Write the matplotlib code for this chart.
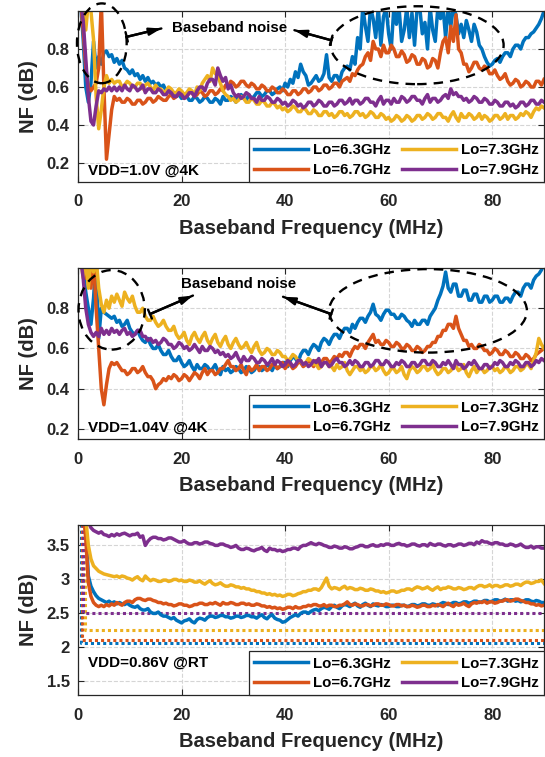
import matplotlib
matplotlib.use('Agg')
import matplotlib.pyplot as plt
from matplotlib.patches import Ellipse
import numpy as np

plt.rcParams['font.family'] = ['Liberation Sans', 'DejaVu Sans']
plt.rcParams['font.weight'] = 'bold'
plt.rcParams['axes.labelweight'] = 'bold'

# baseband frequency (MHz), 0.5 MHz steps
freq = np.arange(0.5, 90.01, 0.5)

labels = ['Lo=6.3GHz', 'Lo=6.7GHz', 'Lo=7.3GHz', 'Lo=7.9GHz']
colors = ['#0072BD', '#D95319', '#EDB120', '#7E2F8E']

# ---- VDD=1.0V @4K ----
top_63 = [1.05, 0.85, 0.60, 0.52, 0.62, 0.84, 0.70, 0.76, 0.72, 0.78, 0.79, 0.76, 0.77, 0.73, 0.75,
          0.72, 0.74, 0.70, 0.69, 0.67, 0.69, 0.66, 0.67, 0.64, 0.66,
          0.63, 0.65, 0.62, 0.63, 0.61, 0.62, 0.60, 0.61, 0.58, 0.59,
          0.56, 0.57, 0.55, 0.56, 0.54, 0.55, 0.55, 0.53, 0.53, 0.55,
          0.54, 0.52, 0.53, 0.55, 0.54, 0.52, 0.52, 0.54, 0.53, 0.51,
          0.55, 0.53, 0.53, 0.55, 0.54, 0.52, 0.55, 0.56, 0.54, 0.53,
          0.56, 0.54, 0.55, 0.57, 0.57, 0.55, 0.56, 0.58, 0.58, 0.56,
          0.57, 0.59, 0.60, 0.58, 0.62, 0.60, 0.64, 0.62, 0.68, 0.65,
          0.72, 0.68, 0.66, 0.61, 0.62, 0.64, 0.66, 0.63, 0.64, 0.67,
          0.77, 0.65, 0.63, 0.66, 0.66, 0.63, 0.68, 0.70, 0.71, 0.69,
          0.76, 0.72, 0.86, 0.80, 1.02, 0.92, 0.84, 1.02, 0.96, 0.86,
          1.02, 0.82, 0.97, 1.02, 0.88, 0.80, 1.02, 0.93, 1.02, 0.84,
          0.90, 1.02, 0.86, 0.99, 0.82, 1.02, 1.02, 0.88, 0.94, 0.80,
          1.02, 0.90, 0.84, 1.02, 0.96, 1.02, 0.86, 1.02, 0.92, 1.02,
          0.98, 0.88, 0.93, 0.86, 0.95, 0.90, 0.84, 0.93, 0.89, 0.82,
          0.80, 0.76, 0.73, 0.71, 0.72, 0.74, 0.75, 0.73, 0.76, 0.78,
          0.78, 0.76, 0.80, 0.82, 0.82, 0.80, 0.84, 0.86, 0.86, 0.88,
          0.89, 0.91, 0.93, 0.96, 1.00]
top_67 = [1.05, 0.90, 0.70, 0.60, 0.58, 0.60, 0.62, 0.70, 1.05, 0.60, 0.22, 0.35, 0.48, 0.55, 0.53,
          0.54, 0.52, 0.52, 0.54, 0.53, 0.51, 0.51, 0.53, 0.53, 0.51,
          0.52, 0.54, 0.54, 0.52, 0.53, 0.55, 0.54, 0.53, 0.53, 0.55,
          0.56, 0.54, 0.55, 0.57, 0.56, 0.54, 0.55, 0.57, 0.57, 0.55,
          0.56, 0.58, 0.57, 0.55, 0.56, 0.58, 0.58, 0.56, 0.57, 0.59,
          0.58, 0.61, 0.60, 0.63, 0.62, 0.60, 0.61, 0.63, 0.63, 0.61,
          0.60, 0.62, 0.61, 0.59, 0.59, 0.61, 0.60, 0.58, 0.58, 0.60,
          0.59, 0.57, 0.57, 0.59, 0.58, 0.56, 0.56, 0.58, 0.58, 0.56,
          0.57, 0.59, 0.59, 0.57, 0.58, 0.60, 0.60, 0.58, 0.59, 0.61,
          0.61, 0.59, 0.60, 0.62, 0.62, 0.60, 0.63, 0.64, 0.65, 0.63,
          0.67, 0.66, 0.69, 0.71, 0.72, 0.76, 0.78, 0.74, 0.84, 0.80,
          0.80, 0.76, 0.82, 0.78, 0.78, 0.82, 0.80, 0.76, 0.76, 0.79,
          0.77, 0.73, 0.74, 0.77, 0.76, 0.72, 0.72, 0.75, 0.74, 0.70,
          0.71, 0.75, 0.74, 0.70, 0.78, 0.84, 0.86, 0.78, 0.92, 0.84,
          0.98, 0.80, 0.78, 0.72, 0.72, 0.68, 0.70, 0.73, 0.73, 0.70,
          0.69, 0.71, 0.70, 0.67, 0.67, 0.69, 0.66, 0.64, 0.65, 0.67,
          0.63, 0.61, 0.62, 0.64, 0.63, 0.60, 0.61, 0.63, 0.62, 0.60,
          0.60, 0.63, 0.63, 0.61, 0.64]
top_73 = [1.05, 1.05, 0.90, 1.05, 1.00, 0.85, 0.55, 0.38, 0.48, 0.60, 0.66, 0.62, 0.64, 0.62, 0.63,
          0.63, 0.60, 0.61, 0.63, 0.62, 0.60, 0.60, 0.62, 0.62, 0.59,
          0.61, 0.62, 0.60, 0.58, 0.61, 0.59, 0.59, 0.57, 0.58, 0.60,
          0.59, 0.57, 0.57, 0.59, 0.58, 0.56, 0.57, 0.59, 0.58, 0.56,
          0.60, 0.58, 0.62, 0.64, 0.66, 0.63, 0.70, 0.67, 0.66, 0.62,
          0.58, 0.56, 0.55, 0.53, 0.54, 0.52, 0.53, 0.55, 0.54, 0.52,
          0.52, 0.54, 0.53, 0.51, 0.51, 0.53, 0.52, 0.50, 0.50, 0.52,
          0.51, 0.49, 0.50, 0.48, 0.49, 0.47, 0.48, 0.50, 0.49, 0.47,
          0.47, 0.49, 0.48, 0.46, 0.46, 0.48, 0.47, 0.45, 0.45, 0.47,
          0.47, 0.45, 0.46, 0.44, 0.45, 0.47, 0.47, 0.45, 0.46, 0.44,
          0.45, 0.47, 0.47, 0.45, 0.46, 0.44, 0.45, 0.47, 0.46, 0.44,
          0.44, 0.46, 0.45, 0.43, 0.44, 0.42, 0.43, 0.45, 0.44, 0.42,
          0.43, 0.45, 0.44, 0.42, 0.43, 0.45, 0.45, 0.43, 0.44, 0.46,
          0.45, 0.43, 0.44, 0.46, 0.46, 0.44, 0.44, 0.42, 0.45, 0.47,
          0.44, 0.42, 0.46, 0.44, 0.44, 0.46, 0.45, 0.43, 0.44, 0.46,
          0.43, 0.45, 0.44, 0.42, 0.43, 0.45, 0.45, 0.43, 0.44, 0.46,
          0.43, 0.45, 0.45, 0.43, 0.44, 0.46, 0.45, 0.47, 0.46, 0.44,
          0.47, 0.49, 0.48, 0.50, 0.49]
top_79 = [1.05, 0.95, 0.75, 0.55, 0.42, 0.40, 0.50, 0.58, 0.57, 0.59, 0.58, 0.60, 0.58, 0.60, 0.58,
          0.60, 0.58, 0.61, 0.59, 0.58, 0.61, 0.60, 0.58, 0.59, 0.61,
          0.57, 0.59, 0.59, 0.57, 0.57, 0.59, 0.58, 0.56, 0.56, 0.58,
          0.57, 0.55, 0.55, 0.57, 0.56, 0.54, 0.55, 0.57, 0.57, 0.55,
          0.58, 0.60, 0.60, 0.58, 0.62, 0.64, 0.64, 0.61, 0.70, 0.66,
          0.63, 0.65, 0.59, 0.61, 0.57, 0.55, 0.56, 0.54, 0.55, 0.57,
          0.56, 0.54, 0.54, 0.52, 0.55, 0.53, 0.53, 0.55, 0.54, 0.52,
          0.52, 0.54, 0.53, 0.51, 0.52, 0.50, 0.51, 0.53, 0.52, 0.50,
          0.51, 0.49, 0.50, 0.52, 0.52, 0.50, 0.51, 0.53, 0.52, 0.50,
          0.50, 0.52, 0.52, 0.50, 0.51, 0.53, 0.53, 0.51, 0.52, 0.54,
          0.51, 0.53, 0.53, 0.51, 0.52, 0.54, 0.54, 0.52, 0.52, 0.50,
          0.53, 0.55, 0.51, 0.53, 0.53, 0.51, 0.54, 0.52, 0.52, 0.55,
          0.54, 0.52, 0.53, 0.55, 0.55, 0.53, 0.53, 0.51, 0.54, 0.56,
          0.52, 0.54, 0.54, 0.52, 0.53, 0.55, 0.56, 0.54, 0.59, 0.56,
          0.57, 0.55, 0.55, 0.53, 0.54, 0.52, 0.53, 0.55, 0.54, 0.52,
          0.52, 0.54, 0.53, 0.51, 0.51, 0.53, 0.52, 0.50, 0.50, 0.52,
          0.52, 0.50, 0.51, 0.49, 0.50, 0.52, 0.52, 0.50, 0.51, 0.53,
          0.53, 0.51, 0.51, 0.53, 0.52]

# ---- VDD=1.04V @4K ----
mid_63 = [1.05, 1.00, 0.88, 0.80, 0.72, 0.85, 1.05, 0.65, 0.80, 0.78, 0.77, 0.76, 0.75, 0.76, 0.73,
          0.74, 0.71, 0.72, 0.74, 0.70, 0.68, 0.67, 0.69, 0.66, 0.64,
          0.63, 0.65, 0.62, 0.60, 0.60, 0.62, 0.59, 0.57, 0.57, 0.59,
          0.56, 0.54, 0.54, 0.56, 0.53, 0.51, 0.52, 0.54, 0.51, 0.49,
          0.52, 0.50, 0.50, 0.52, 0.51, 0.49, 0.50, 0.52, 0.49, 0.47,
          0.51, 0.49, 0.50, 0.48, 0.49, 0.51, 0.50, 0.48, 0.49, 0.51,
          0.50, 0.48, 0.49, 0.51, 0.51, 0.49, 0.50, 0.52, 0.51, 0.49,
          0.52, 0.50, 0.51, 0.53, 0.53, 0.51, 0.54, 0.56, 0.55, 0.53,
          0.57, 0.59, 0.59, 0.57, 0.60, 0.62, 0.61, 0.59, 0.63, 0.65,
          0.64, 0.62, 0.65, 0.67, 0.67, 0.65, 0.68, 0.70, 0.70, 0.68,
          0.72, 0.70, 0.73, 0.75, 0.75, 0.73, 0.76, 0.78, 0.82, 0.77,
          0.76, 0.74, 0.77, 0.79, 0.79, 0.77, 0.77, 0.75, 0.75, 0.77,
          0.76, 0.74, 0.73, 0.71, 0.74, 0.72, 0.72, 0.74, 0.74, 0.72,
          0.76, 0.78, 0.80, 0.84, 0.87, 0.91, 0.98, 0.90, 0.88, 0.92,
          0.92, 0.86, 0.86, 0.89, 0.89, 0.84, 0.84, 0.87, 0.87, 0.83,
          0.83, 0.86, 0.86, 0.83, 0.84, 0.86, 0.86, 0.83, 0.83, 0.85,
          0.85, 0.83, 0.86, 0.88, 0.88, 0.86, 0.90, 0.92, 0.92, 0.90,
          0.94, 0.96, 0.97, 0.99, 1.02]
mid_67 = [1.05, 1.05, 0.95, 1.05, 0.90, 1.05, 0.80, 0.60, 0.40, 0.32, 0.42, 0.50, 0.53, 0.52, 0.53,
          0.51, 0.49, 0.49, 0.47, 0.48, 0.50, 0.50, 0.48, 0.49, 0.51,
          0.48, 0.46, 0.46, 0.44, 0.40, 0.42, 0.43, 0.45, 0.44, 0.46,
          0.45, 0.47, 0.46, 0.44, 0.45, 0.47, 0.46, 0.44, 0.46, 0.48,
          0.47, 0.45, 0.48, 0.50, 0.47, 0.49, 0.49, 0.47, 0.48, 0.50,
          0.50, 0.52, 0.54, 0.51, 0.51, 0.49, 0.50, 0.52, 0.49, 0.47,
          0.51, 0.49, 0.50, 0.52, 0.49, 0.51, 0.51, 0.49, 0.50, 0.52,
          0.52, 0.50, 0.51, 0.53, 0.50, 0.52, 0.52, 0.50, 0.51, 0.53,
          0.53, 0.51, 0.52, 0.54, 0.53, 0.51, 0.54, 0.52, 0.53, 0.55,
          0.55, 0.53, 0.54, 0.56, 0.55, 0.57, 0.56, 0.58, 0.58, 0.56,
          0.59, 0.61, 0.60, 0.62, 0.62, 0.60, 0.63, 0.65, 0.67, 0.63,
          0.64, 0.62, 0.62, 0.64, 0.63, 0.61, 0.61, 0.63, 0.62, 0.60,
          0.60, 0.62, 0.61, 0.59, 0.59, 0.61, 0.60, 0.58, 0.59, 0.61,
          0.61, 0.63, 0.63, 0.66, 0.66, 0.69, 0.69, 0.72, 0.72, 0.70,
          0.76, 0.70, 0.67, 0.64, 0.64, 0.61, 0.62, 0.60, 0.60, 0.62,
          0.61, 0.59, 0.59, 0.57, 0.58, 0.60, 0.59, 0.57, 0.57, 0.59,
          0.58, 0.56, 0.56, 0.58, 0.57, 0.55, 0.55, 0.57, 0.56, 0.54,
          0.55, 0.57, 0.58, 0.59, 0.60]
mid_73 = [1.05, 0.95, 1.05, 0.90, 1.05, 0.98, 1.05, 0.90, 0.82, 0.78, 0.84, 0.80, 0.86, 0.83, 0.87,
          0.84, 0.81, 0.88, 0.85, 0.83, 0.86, 0.81, 0.78, 0.78, 0.80,
          0.76, 0.74, 0.74, 0.76, 0.73, 0.71, 0.72, 0.74, 0.71, 0.69,
          0.69, 0.71, 0.67, 0.65, 0.66, 0.68, 0.64, 0.62, 0.66, 0.68,
          0.65, 0.63, 0.66, 0.68, 0.64, 0.62, 0.65, 0.67, 0.63, 0.61,
          0.64, 0.66, 0.62, 0.60, 0.63, 0.65, 0.62, 0.60, 0.61, 0.63,
          0.60, 0.58, 0.61, 0.63, 0.59, 0.57, 0.58, 0.60, 0.59, 0.57,
          0.57, 0.59, 0.58, 0.56, 0.56, 0.54, 0.55, 0.57, 0.56, 0.54,
          0.54, 0.52, 0.53, 0.55, 0.54, 0.52, 0.52, 0.50, 0.51, 0.53,
          0.53, 0.51, 0.51, 0.49, 0.52, 0.50, 0.51, 0.53, 0.49, 0.47,
          0.49, 0.51, 0.51, 0.49, 0.50, 0.48, 0.49, 0.51, 0.51, 0.49,
          0.50, 0.52, 0.49, 0.47, 0.48, 0.50, 0.50, 0.48, 0.49, 0.51,
          0.47, 0.45, 0.49, 0.51, 0.50, 0.48, 0.49, 0.51, 0.51, 0.49,
          0.50, 0.52, 0.49, 0.47, 0.48, 0.50, 0.50, 0.48, 0.49, 0.51,
          0.51, 0.49, 0.50, 0.52, 0.48, 0.46, 0.49, 0.51, 0.48, 0.50,
          0.50, 0.48, 0.49, 0.51, 0.51, 0.49, 0.50, 0.48, 0.49, 0.51,
          0.50, 0.48, 0.49, 0.51, 0.51, 0.49, 0.50, 0.52, 0.52, 0.50,
          0.54, 0.58, 0.65, 0.62, 0.60]
mid_79 = [1.05, 0.95, 0.80, 0.72, 0.68, 0.66, 0.68, 0.66, 0.70, 0.67, 0.69, 0.67, 0.70, 0.68, 0.69,
          0.67, 0.69, 0.70, 0.67, 0.68, 0.66, 0.67, 0.69, 0.69, 0.66,
          0.66, 0.64, 0.65, 0.63, 0.64, 0.62, 0.63, 0.65, 0.64, 0.62,
          0.62, 0.60, 0.61, 0.63, 0.62, 0.60, 0.61, 0.59, 0.60, 0.62,
          0.60, 0.58, 0.61, 0.59, 0.59, 0.61, 0.60, 0.58, 0.59, 0.57,
          0.58, 0.56, 0.57, 0.55, 0.56, 0.58, 0.55, 0.53, 0.56, 0.54,
          0.54, 0.56, 0.55, 0.53, 0.53, 0.55, 0.54, 0.52, 0.53, 0.55,
          0.52, 0.54, 0.53, 0.51, 0.52, 0.54, 0.53, 0.51, 0.52, 0.54,
          0.54, 0.52, 0.53, 0.51, 0.52, 0.54, 0.53, 0.55, 0.51, 0.53,
          0.53, 0.51, 0.52, 0.54, 0.55, 0.53, 0.53, 0.51, 0.52, 0.54,
          0.52, 0.54, 0.53, 0.51, 0.51, 0.53, 0.53, 0.51, 0.52, 0.54,
          0.54, 0.52, 0.52, 0.54, 0.53, 0.51, 0.51, 0.53, 0.52, 0.54,
          0.53, 0.51, 0.51, 0.53, 0.53, 0.51, 0.52, 0.54, 0.54, 0.52,
          0.52, 0.54, 0.53, 0.51, 0.51, 0.53, 0.52, 0.54, 0.52, 0.50,
          0.54, 0.52, 0.52, 0.50, 0.51, 0.53, 0.52, 0.54, 0.52, 0.50,
          0.50, 0.52, 0.52, 0.50, 0.51, 0.53, 0.52, 0.54, 0.53, 0.51,
          0.51, 0.53, 0.52, 0.54, 0.53, 0.51, 0.51, 0.53, 0.53, 0.51,
          0.52, 0.54, 0.53, 0.55, 0.54]

# ---- VDD=0.86V @RT ----
rt_63 = [4.00, 4.00, 3.80, 3.05, 2.90, 2.82, 2.76, 2.72, 2.70, 2.68, 2.66, 2.68, 2.65, 2.67, 2.64,
         2.66, 2.64, 2.63, 2.65, 2.62, 2.60, 2.59, 2.61, 2.57, 2.55,
         2.55, 2.57, 2.52, 2.50, 2.50, 2.52, 2.48, 2.46, 2.46, 2.44,
         2.42, 2.44, 2.40, 2.38, 2.36, 2.39, 2.40, 2.42, 2.38, 2.36,
         2.41, 2.43, 2.42, 2.40, 2.44, 2.46, 2.46, 2.44, 2.45, 2.47,
         2.47, 2.45, 2.45, 2.43, 2.44, 2.46, 2.46, 2.44, 2.45, 2.47,
         2.47, 2.45, 2.45, 2.43, 2.46, 2.48, 2.44, 2.42, 2.46, 2.48,
         2.43, 2.41, 2.40, 2.37, 2.38, 2.41, 2.44, 2.46, 2.48, 2.46,
         2.50, 2.52, 2.52, 2.50, 2.53, 2.55, 2.56, 2.54, 2.57, 2.59,
         2.58, 2.56, 2.60, 2.62, 2.59, 2.57, 2.61, 2.63, 2.62, 2.60,
         2.63, 2.65, 2.61, 2.59, 2.63, 2.65, 2.62, 2.60, 2.64, 2.62,
         2.61, 2.63, 2.62, 2.60, 2.60, 2.62, 2.62, 2.60, 2.60, 2.62,
         2.62, 2.60, 2.61, 2.63, 2.63, 2.61, 2.62, 2.64, 2.64, 2.62,
         2.62, 2.64, 2.63, 2.61, 2.64, 2.66, 2.65, 2.63, 2.64, 2.66,
         2.66, 2.64, 2.65, 2.67, 2.67, 2.65, 2.66, 2.68, 2.68, 2.66,
         2.67, 2.69, 2.69, 2.67, 2.68, 2.70, 2.70, 2.68, 2.69, 2.71,
         2.68, 2.70, 2.70, 2.68, 2.69, 2.67, 2.68, 2.70, 2.70, 2.68,
         2.67, 2.69, 2.68, 2.66, 2.66]
rt_67 = [4.00, 4.00, 3.60, 2.95, 2.75, 2.66, 2.62, 2.60, 2.62, 2.60, 2.63, 2.61, 2.64, 2.62, 2.66,
         2.64, 2.62, 2.66, 2.68, 2.68, 2.66, 2.70, 2.72, 2.72, 2.70,
         2.69, 2.71, 2.71, 2.69, 2.68, 2.66, 2.66, 2.64, 2.65, 2.63,
         2.63, 2.61, 2.62, 2.64, 2.64, 2.62, 2.62, 2.60, 2.61, 2.63,
         2.63, 2.65, 2.65, 2.63, 2.63, 2.65, 2.64, 2.66, 2.64, 2.62,
         2.66, 2.64, 2.64, 2.66, 2.65, 2.63, 2.63, 2.65, 2.65, 2.63,
         2.64, 2.62, 2.62, 2.64, 2.63, 2.61, 2.61, 2.59, 2.60, 2.58,
         2.59, 2.57, 2.58, 2.56, 2.57, 2.59, 2.59, 2.57, 2.60, 2.58,
         2.58, 2.60, 2.60, 2.62, 2.61, 2.63, 2.63, 2.61, 2.61, 2.63,
         2.60, 2.62, 2.62, 2.60, 2.60, 2.62, 2.62, 2.64, 2.67, 2.63,
         2.62, 2.64, 2.63, 2.61, 2.61, 2.63, 2.63, 2.61, 2.62, 2.64,
         2.64, 2.62, 2.62, 2.64, 2.63, 2.61, 2.61, 2.63, 2.63, 2.61,
         2.62, 2.60, 2.60, 2.62, 2.61, 2.59, 2.60, 2.62, 2.62, 2.60,
         2.60, 2.62, 2.61, 2.63, 2.62, 2.60, 2.63, 2.65, 2.62, 2.60,
         2.64, 2.62, 2.63, 2.65, 2.62, 2.60, 2.64, 2.66, 2.65, 2.67,
         2.66, 2.68, 2.65, 2.67, 2.67, 2.65, 2.66, 2.68, 2.68, 2.70,
         2.70, 2.68, 2.69, 2.71, 2.71, 2.69, 2.68, 2.66, 2.66, 2.64,
         2.64, 2.62, 2.63, 2.61, 2.62]
rt_73 = [4.00, 4.00, 3.90, 3.50, 3.30, 3.20, 3.16, 3.12, 3.10, 3.08, 3.07, 3.06, 3.05, 3.04, 3.05,
         3.03, 3.05, 3.04, 3.02, 3.01, 2.99, 3.02, 3.04, 3.00, 2.98,
         3.05, 3.01, 2.98, 3.00, 2.99, 2.97, 2.97, 2.99, 2.99, 2.97,
         2.98, 3.00, 3.00, 2.98, 2.99, 2.97, 2.97, 2.99, 2.98, 2.96,
         2.96, 2.98, 2.95, 2.93, 2.96, 2.98, 2.94, 2.92, 2.93, 2.95,
         2.92, 2.90, 2.90, 2.92, 2.91, 2.89, 2.89, 2.87, 2.88, 2.86,
         2.86, 2.84, 2.84, 2.82, 2.82, 2.80, 2.80, 2.78, 2.79, 2.77,
         2.78, 2.76, 2.77, 2.75, 2.76, 2.78, 2.78, 2.76, 2.77, 2.79,
         2.80, 2.82, 2.82, 2.84, 2.84, 2.86, 2.86, 2.84, 2.88, 2.95,
         3.02, 2.90, 2.86, 2.88, 2.87, 2.85, 2.88, 2.90, 2.86, 2.88,
         2.87, 2.85, 2.85, 2.87, 2.86, 2.84, 2.84, 2.86, 2.85, 2.83,
         2.83, 2.81, 2.82, 2.80, 2.81, 2.83, 2.83, 2.81, 2.82, 2.84,
         2.84, 2.86, 2.86, 2.84, 2.87, 2.89, 2.88, 2.86, 2.87, 2.89,
         2.86, 2.84, 2.87, 2.89, 2.85, 2.87, 2.87, 2.89, 2.88, 2.86,
         2.86, 2.88, 2.87, 2.85, 2.86, 2.88, 2.88, 2.86, 2.89, 2.91,
         2.91, 2.89, 2.90, 2.92, 2.89, 2.91, 2.91, 2.89, 2.90, 2.92,
         2.92, 2.90, 2.91, 2.93, 2.93, 2.91, 2.94, 2.96, 2.96, 2.94,
         2.95, 2.97, 2.97, 2.99, 2.94]
rt_79 = [4.00, 4.00, 3.95, 3.85, 3.76, 3.72, 3.70, 3.68, 3.70, 3.66, 3.65, 3.63, 3.66, 3.64, 3.67,
         3.65, 3.67, 3.68, 3.66, 3.64, 3.66, 3.66, 3.68, 3.62, 3.64,
         3.50, 3.56, 3.60, 3.62, 3.62, 3.60, 3.60, 3.58, 3.59, 3.61,
         3.61, 3.59, 3.57, 3.55, 3.55, 3.57, 3.54, 3.52, 3.52, 3.54,
         3.54, 3.52, 3.53, 3.55, 3.55, 3.53, 3.52, 3.50, 3.50, 3.52,
         3.52, 3.50, 3.49, 3.47, 3.48, 3.50, 3.46, 3.44, 3.44, 3.46,
         3.45, 3.43, 3.42, 3.44, 3.45, 3.47, 3.43, 3.41, 3.46, 3.44,
         3.44, 3.42, 3.43, 3.41, 3.42, 3.44, 3.44, 3.46, 3.46, 3.44,
         3.48, 3.50, 3.50, 3.52, 3.54, 3.52, 3.51, 3.53, 3.52, 3.50,
         3.49, 3.47, 3.47, 3.49, 3.48, 3.46, 3.46, 3.48, 3.47, 3.45,
         3.45, 3.47, 3.48, 3.50, 3.50, 3.48, 3.48, 3.50, 3.51, 3.49,
         3.49, 3.51, 3.50, 3.52, 3.52, 3.50, 3.50, 3.52, 3.53, 3.51,
         3.51, 3.49, 3.50, 3.52, 3.52, 3.50, 3.49, 3.51, 3.51, 3.49,
         3.53, 3.51, 3.50, 3.52, 3.52, 3.50, 3.49, 3.51, 3.51, 3.49,
         3.50, 3.52, 3.52, 3.50, 3.51, 3.53, 3.53, 3.51, 3.55, 3.53,
         3.57, 3.55, 3.55, 3.53, 3.52, 3.54, 3.54, 3.52, 3.52, 3.50,
         3.50, 3.52, 3.51, 3.49, 3.50, 3.52, 3.49, 3.47, 3.47, 3.49,
         3.46, 3.48, 3.48, 3.46, 3.46]

# dotted reference levels in the RT panel
rt_ref_level = [2.06, 2.11, 2.25, 2.51]
rt_ref_start = [0.6, 0.7, 1.3, 0.9]


def setup_axes(ax, ylim, yticks, yticklabels, note, note_y):
    ax.set_xlim(0, 90)
    ax.set_ylim(*ylim)
    ax.set_xticks([0, 20, 40, 60, 80])
    ax.set_yticks(yticks)
    ax.set_yticklabels(yticklabels)
    ax.grid(True, linestyle='--', color='#d5d5d5', linewidth=0.8)
    ax.set_axisbelow(True)
    ax.tick_params(direction='in', top=True, right=True, length=4, width=0.8,
                   labelsize=12, colors='#262626')
    ax.tick_params(axis='x', pad=9)
    ax.tick_params(axis='y', pad=6)
    for sp in ax.spines.values():
        sp.set_color('#262626')
        sp.set_linewidth(0.9)
    ax.set_xlabel('Baseband Frequency (MHz)', fontsize=14.5, fontweight='bold',
                  color='#262626', labelpad=7)
    ax.set_ylabel('NF (dB)', fontsize=14.5, fontweight='bold', color='#262626', labelpad=6)
    ax.text(0.022, note_y, note, transform=ax.transAxes, fontsize=11,
            fontweight='bold', va='center', ha='left')
    leg = ax.legend(ncol=2, loc='lower right', bbox_to_anchor=(1, 0), borderaxespad=0,
                    fontsize=10.8, handlelength=3.6, handletextpad=0.35,
                    columnspacing=0.7, labelspacing=0.35, borderpad=0.35,
                    fancybox=False, framealpha=1, edgecolor='#262626')
    leg.get_frame().set_linewidth(0.9)


def noise_marks(ax, text_xy, ellipses, arrows):
    ax.text(text_xy[0], text_xy[1], 'Baseband noise', fontsize=10.8,
            fontweight='bold', ha='center', va='center')
    for (cx, cy, w, h) in ellipses:
        ax.add_patch(Ellipse((cx, cy), w, h, fill=False, ls=(0, (4, 3)), lw=1.7,
                             color='k', clip_on=False, zorder=6))
    for (x0, y0, x1, y1) in arrows:
        ax.annotate('', xy=(x1, y1), xytext=(x0, y0),
                    arrowprops=dict(arrowstyle='-|>, head_length=0.7, head_width=0.22',
                                    lw=1.7, color='k', shrinkA=0, shrinkB=0))
        ax.annotate('', xy=(x1, y1), xytext=(x0, y0),
                    arrowprops=dict(arrowstyle=']-, widthA=0.35, lengthA=0',
                                    lw=1.7, color='k', shrinkA=0, shrinkB=0))


W, H = 545, 757
fig = plt.figure(figsize=(W / 100, H / 100), dpi=100)
left = 78 / W
width = (544 - 78) / W

ax1 = fig.add_axes([left, (H - 182) / H, width, 171 / H])
ax2 = fig.add_axes([left, (H - 439) / H, width, 171 / H])
ax3 = fig.add_axes([left, (H - 695) / H, width, 170 / H])

for vals, c, lab in zip([top_63, top_67, top_73, top_79], colors, labels):
    ax1.plot(freq, vals, color=c, lw=2.5, label=lab)
setup_axes(ax1, (0.1, 1.0), [0.2, 0.4, 0.6, 0.8], ['0.2', '0.4', '0.6', '0.8'],
           'VDD=1.0V @4K', 0.068)
noise_marks(ax1, (29.2, 0.913),
            [(4.6, 0.83, 9.6, 0.42), (65.5, 0.82, 33.4, 0.41)],
            [(9.4, 0.864, 16.1, 0.908), (48.9, 0.846, 41.8, 0.899)])

for vals, c, lab in zip([mid_63, mid_67, mid_73, mid_79], colors, labels):
    ax2.plot(freq, vals, color=c, lw=2.5, label=lab)
setup_axes(ax2, (0.15, 1.0), [0.2, 0.4, 0.6, 0.8], ['0.2', '0.4', '0.6', '0.8'],
           'VDD=1.04V @4K', 0.066)
noise_marks(ax2, (31.0, 0.919),
            [(6.5, 0.792, 12.8, 0.395), (67.6, 0.787, 38.2, 0.415)],
            [(13.9, 0.771, 22.2, 0.863), (48.9, 0.771, 39.6, 0.857)])

for lvl, x0, c in zip(rt_ref_level, rt_ref_start, colors):
    ax3.plot([x0, x0, 90], [3.9, lvl, lvl], color=c, lw=2.2, ls=(0, (1, 1)), zorder=1.5)
for vals, c, lab in zip([rt_63, rt_67, rt_73, rt_79], colors, labels):
    ax3.plot(freq, vals, color=c, lw=2.5, label=lab)
setup_axes(ax3, (1.3, 3.8), [1.5, 2, 2.5, 3, 3.5], ['1.5', '2', '2.5', '3', '3.5'],
           'VDD=0.86V @RT', 0.19)

fig.savefig('out.png', dpi=100)
